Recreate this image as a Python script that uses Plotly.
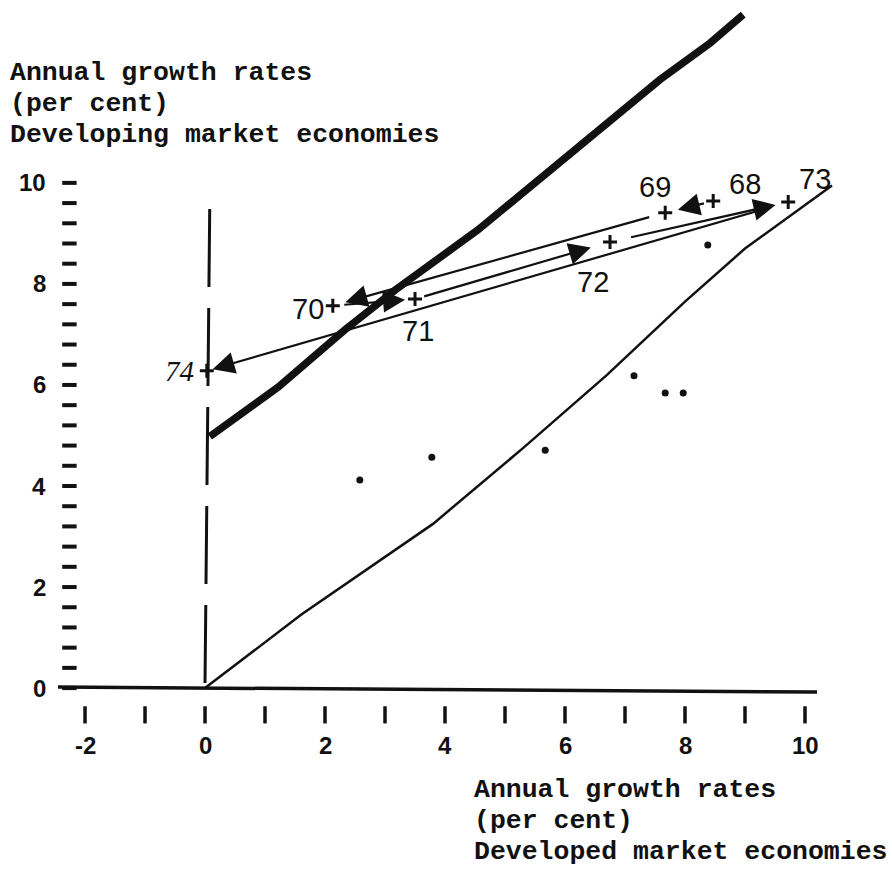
import plotly.graph_objects as go

# Year positions: growth of developed (x) vs developing (y) market economies
years = ["68", "69", "70", "71", "72", "73", "74"]
developed = [8.47, 7.67, 2.13, 3.50, 6.75, 9.72, 0.03]
developing = [9.64, 9.41, 7.57, 7.70, 8.83, 9.62, 6.28]

# Single observations shown as dots
dots_x = [2.58, 3.78, 5.67, 7.15, 7.67, 7.97, 8.38]
dots_y = [4.12, 4.57, 4.71, 6.18, 5.84, 5.84, 8.77]

# Heavy freehand curve
thick_x = [0.08, 1.22, 2.33, 3.17, 4.55, 5.92, 6.75, 7.58, 8.42, 8.97]
thick_y = [4.98, 5.96, 7.09, 7.88, 9.07, 10.4, 11.19, 12.04, 12.77, 13.33]

# Equal-growth line
diag_x = [0.0, 1.6, 3.8, 5.3, 6.7, 8.0, 9.0, 10.45]
diag_y = [0.0, 1.45, 3.25, 4.75, 6.2, 7.65, 8.7, 9.95]

# Axis ticks and labels
x_ticks = [-2, -1, 0, 1, 2, 3, 4, 5, 6, 7, 8, 9, 10]
x_tick_labels = [-2, 0, 2, 4, 6, 8, 10]
y_ticks = [0, 0.4, 0.8, 1.2, 1.6, 2, 2.4, 2.8, 3.2, 3.6, 4, 4.4, 4.8, 5.2,
           5.6, 6, 6.4, 6.8, 7.2, 7.6, 8, 8.4, 8.8, 9.2, 9.6, 10]
y_tick_labels = [0, 2, 4, 6, 8, 10]

INK = "#111111"
MONO = "Liberation Mono"
SANS = "Liberation Sans"

fig = go.Figure()

# x-axis line
fig.add_trace(go.Scatter(x=[-2.45, 10.2], y=[0.02, -0.08], mode="lines",
                         line=dict(color=INK, width=3.5), hoverinfo="skip"))

# x tick marks
tx, ty = [], []
for t in x_ticks:
    tx += [t, t, None]
    ty += [-0.36, -0.70, None]
fig.add_trace(go.Scatter(x=tx, y=ty, mode="lines",
                         line=dict(color=INK, width=3.5), hoverinfo="skip"))

# y tick dashes
yx, yy = [], []
for t in y_ticks:
    yx += [-2.38, -2.14, None]
    yy += [t, t, None]
fig.add_trace(go.Scatter(x=yx, y=yy, mode="lines",
                         line=dict(color=INK, width=4), hoverinfo="skip"))

# dashed vertical at zero
fig.add_trace(go.Scatter(x=[0.0, 0.08], y=[0.1, 9.7], mode="lines",
                         line=dict(color=INK, width=3, dash="78px,21px"),
                         hoverinfo="skip"))

# equal-growth line
fig.add_trace(go.Scatter(x=diag_x, y=diag_y, mode="lines",
                         line=dict(color=INK, width=2.5),
                         hoverinfo="skip"))

# heavy curve
fig.add_trace(go.Scatter(x=thick_x, y=thick_y, mode="lines",
                         line=dict(color=INK, width=7.5),
                         hoverinfo="skip"))

# dots
fig.add_trace(go.Scatter(x=dots_x, y=dots_y, mode="markers",
                         marker=dict(color=INK, size=7), hoverinfo="skip"))

# year crosses
fig.add_trace(go.Scatter(x=developed, y=developing, mode="markers",
                         marker=dict(symbol="cross-thin", size=10,
                                     line=dict(color=INK, width=3)),
                         hoverinfo="skip"))

# arrows from each year to the next
head_gap = [13, 13, 10, 20, 13, 6]
tail_gap = [8, 15, 10, 8, 20, 22]
for i in range(len(years) - 1):
    fig.add_annotation(x=developed[i + 1], y=developing[i + 1],
                       ax=developed[i], ay=developing[i],
                       xref="x", yref="y", axref="x", ayref="y",
                       text="", showarrow=True, arrowhead=2,
                       arrowsize=2.0, arrowwidth=2.2, arrowcolor=INK,
                       standoff=head_gap[i], startstandoff=tail_gap[i])

# year labels
label_pos = {
    "68": (9.0, 9.98), "69": (7.5, 9.92), "70": (1.72, 7.5),
    "71": (3.55, 7.07), "72": (6.47, 8.04), "73": (10.17, 10.08),
}
for yr, (lx, ly) in label_pos.items():
    fig.add_annotation(x=lx, y=ly, xref="x", yref="y", text=yr,
                       showarrow=False,
                       font=dict(family=SANS, size=29, color=INK))
fig.add_annotation(x=-0.42, y=6.28, xref="x", yref="y", text="<i>74</i>",
                   showarrow=False,
                   font=dict(family="Liberation Serif", size=29, color=INK))

# tick labels
for v in x_tick_labels:
    fig.add_annotation(x=v, y=-1.13, xref="x", yref="y", text="<b>%d</b>" % v,
                       showarrow=False,
                       font=dict(family=SANS, size=24, color=INK))
for v in y_tick_labels:
    fig.add_annotation(x=-2.62, y=v, xref="x", yref="y", text="<b>%d</b>" % v,
                       showarrow=False, xanchor="right",
                       font=dict(family=SANS, size=24, color=INK))

# axis titles
y_title = ["Annual growth rates", "(per cent)", "Developing market economies"]
x_title = ["Annual growth rates", "(per cent)", "Developed market economies"]
for k, line in enumerate(y_title):
    fig.add_annotation(x=8 / 892, y=1 - (73 + 31 * k) / 875,
                       xref="paper", yref="paper", text="<b>%s</b>" % line,
                       showarrow=False, xanchor="left", yanchor="middle",
                       font=dict(family=MONO, size=26.5, color=INK))
for k, line in enumerate(x_title):
    fig.add_annotation(x=472 / 892, y=1 - (790 + 31 * k) / 875,
                       xref="paper", yref="paper", text="<b>%s</b>" % line,
                       showarrow=False, xanchor="left", yanchor="middle",
                       font=dict(family=MONO, size=26.5, color=INK))

fig.update_layout(
    width=892, height=875,
    margin=dict(l=0, r=0, t=0, b=0),
    paper_bgcolor="white", plot_bgcolor="white",
    showlegend=False,
    xaxis=dict(range=[-3.417, 11.45], visible=False, fixedrange=True),
    yaxis=dict(range=[-3.70, 13.62], visible=False, fixedrange=True),
)

fig.write_html("out.html")
